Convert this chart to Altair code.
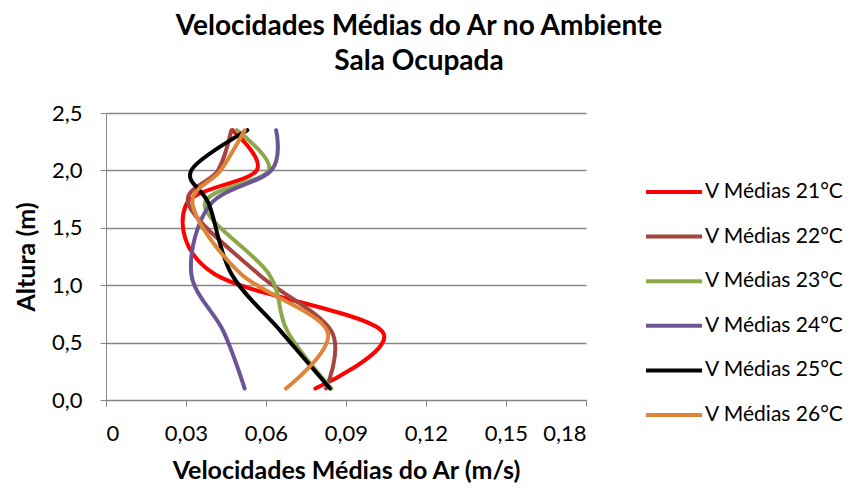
import altair as alt
import pandas as pd

heights = [0.1, 0.6, 1.1, 1.7, 2.0, 2.35]
series_names = ["V Médias 21°C", "V Médias 22°C", "V Médias 23°C",
                "V Médias 24°C", "V Médias 25°C", "V Médias 26°C"]
v21 = [0.0785, 0.1035, 0.0405, 0.0300, 0.0565, 0.0475]
v22 = [0.0825, 0.0845, 0.0570, 0.0310, 0.0420, 0.0470]
v23 = [0.0845, 0.0680, 0.0610, 0.0370, 0.0610, 0.0490]
v24 = [0.0520, 0.0440, 0.0320, 0.0390, 0.0620, 0.0638]
v25 = [0.0840, 0.0655, 0.0470, 0.0387, 0.0320, 0.0530]
v26 = [0.0675, 0.0830, 0.0505, 0.0325, 0.0430, 0.0520]
colors = ["#FF0000", "#A6443F", "#8CA94A", "#6C5596", "#000000", "#DE853A"]
x_ticks = [0, 0.03, 0.06, 0.09, 0.12, 0.15, 0.18]
y_ticks = [0, 0.5, 1.0, 1.5, 2.0, 2.5]

rows = []
for name, vals in zip(series_names, [v21, v22, v23, v24, v25, v26]):
    for h, v in zip(heights, vals):
        rows.append({"serie": name, "h": h, "v": v})
df = pd.DataFrame(rows)

FONT = "Lato"
AX = "#868686"

chart = alt.Chart(df).mark_line(
    interpolate="cardinal", strokeWidth=4, strokeCap="round", strokeJoin="round"
).encode(
    x=alt.X("v:Q", scale=alt.Scale(domain=[0, 0.18], nice=False),
            axis=alt.Axis(values=x_ticks, grid=False, domainColor=AX, tickColor=AX,
                          tickSize=6, labelFontSize=22, labelPadding=17, labelColor="#000",
                          labelExpr="datum.value == 0 ? '0' : replace(format(datum.value, '.2f'), '.', ',')",
                          title="Velocidades Médias do Ar (m/s)", titleFontSize=25,
                          titleFontWeight="bold", titlePadding=14, titleColor="#000")),
    y=alt.Y("h:Q", scale=alt.Scale(domain=[0, 2.5], nice=False),
            axis=alt.Axis(values=y_ticks, grid=True, gridColor=AX, gridWidth=1.3,
                          domainColor=AX, tickColor=AX, tickSize=6, labelFontSize=22,
                          labelPadding=18, labelColor="#000",
                          labelExpr="replace(format(datum.value, '.1f'), '.', ',')",
                          title="Altura (m)", titleFontSize=25, titleFontWeight="bold",
                          titlePadding=12, titleColor="#000")),
    color=alt.Color("serie:N", scale=alt.Scale(domain=series_names, range=colors),
                    legend=alt.Legend(orient="none", legendX=538, legendY=49, title=None,
                                      symbolType="stroke", symbolSize=3136,
                                      symbolStrokeWidth=4, labelFontSize=21,
                                      labelOffset=1, rowPadding=4.6, labelColor="#000")),
    order="h:Q",
).properties(
    width=480, height=287,
    autosize=alt.AutoSizeParams(type="none"),
    padding={"left": 98, "top": 105, "right": 259, "bottom": 85},
    title=alt.Title(["Velocidades Médias do Ar no Ambiente", "Sala Ocupada"],
                    fontSize=28, fontWeight="bold", anchor="middle", dx=73,
                    lineHeight=35, offset=26, color="#000"),
).configure(font=FONT).configure_view(stroke=None)

chart.save("out.html", embed_options={"renderer": "svg", "actions": False})
